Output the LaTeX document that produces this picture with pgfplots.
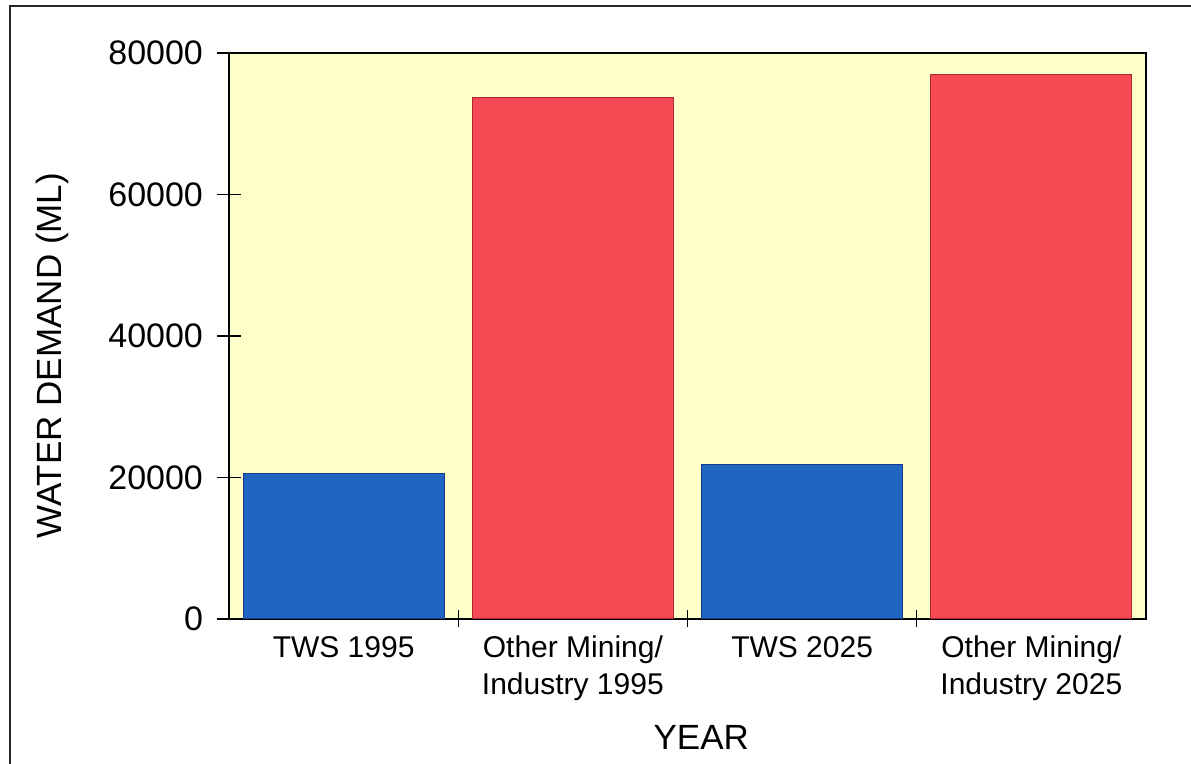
\documentclass[border=0pt]{standalone}
\usepackage{fontspec}
\setmainfont{Liberation Sans}
\usepackage{pgfplots}
\pgfplotsset{compat=1.18}

\definecolor{plotbg}{RGB}{255,255,202}
\definecolor{twsblue}{RGB}{32,102,192}
\definecolor{twsblueedge}{RGB}{20,60,140}
\definecolor{minered}{RGB}{245,74,84}
\definecolor{mineredge}{RGB}{170,40,50}

\begin{document}
\begin{tikzpicture}
\useasboundingbox (0,0) rectangle (595.5pt,382pt);
\clip (0,0) rectangle (595.5pt,382pt);
% page frame (top and left edges)
\draw[line width=1pt, black!85] (5pt,0pt) -- (5pt,379pt) -- (600pt,379pt);
\begin{axis}[
  at={(114.5pt,72.5pt)}, anchor=south west,
  scale only axis,
  width=458.5pt, height=283pt,
  xmin=-0.5, xmax=3.5,
  ymin=0, ymax=80000,
  ytick={0,20000,40000,60000,80000},
  scaled y ticks=false,
  yticklabel style={/pgf/number format/fixed, /pgf/number format/1000 sep={}, xshift=-3.5pt},
  /pgf/number format/assume math mode=true,
  xtick={0,1,2,3},
  xticklabels={TWS 1995, Other Mining/\\Industry 1995, TWS 2025, Other Mining/\\Industry 2025},
  minor xtick={0.5,1.5,2.5},
  major x tick style={draw=none},
  xtick pos=bottom, ytick pos=left,
  minor tick length=8.5pt,
  major tick length=12pt,
  tick align=center,
  tick style={black, line width=0.6pt},
  axis line style={black, line width=0.9pt},
  axis background/.style={fill=plotbg},
  ticklabel style={font=\fontsize{17}{20}\selectfont},
  xticklabel style={font=\fontsize{15}{18.5}\selectfont, align=center, yshift=1pt},
  xlabel={YEAR},
  ylabel={WATER DEMAND (ML)},
  label style={font=\fontsize{17.5}{20}\selectfont},
  xlabel style={at={(axis description cs:0.515,-0.210)}, anchor=center},
  ylabel style={at={(axis description cs:-0.193,0.465)}, anchor=center, rotate=0},
  clip=false,
]
\addplot[ybar, bar width=100.5pt, bar shift=0pt, fill=twsblue, draw=twsblueedge, line width=0.5pt]
  coordinates {(0,20600) (2,21800)};
\addplot[ybar, bar width=100.5pt, bar shift=0pt, fill=minered, draw=mineredge, line width=0.5pt]
  coordinates {(1,73700) (3,77000)};
\end{axis}
\end{tikzpicture}
\end{document}
